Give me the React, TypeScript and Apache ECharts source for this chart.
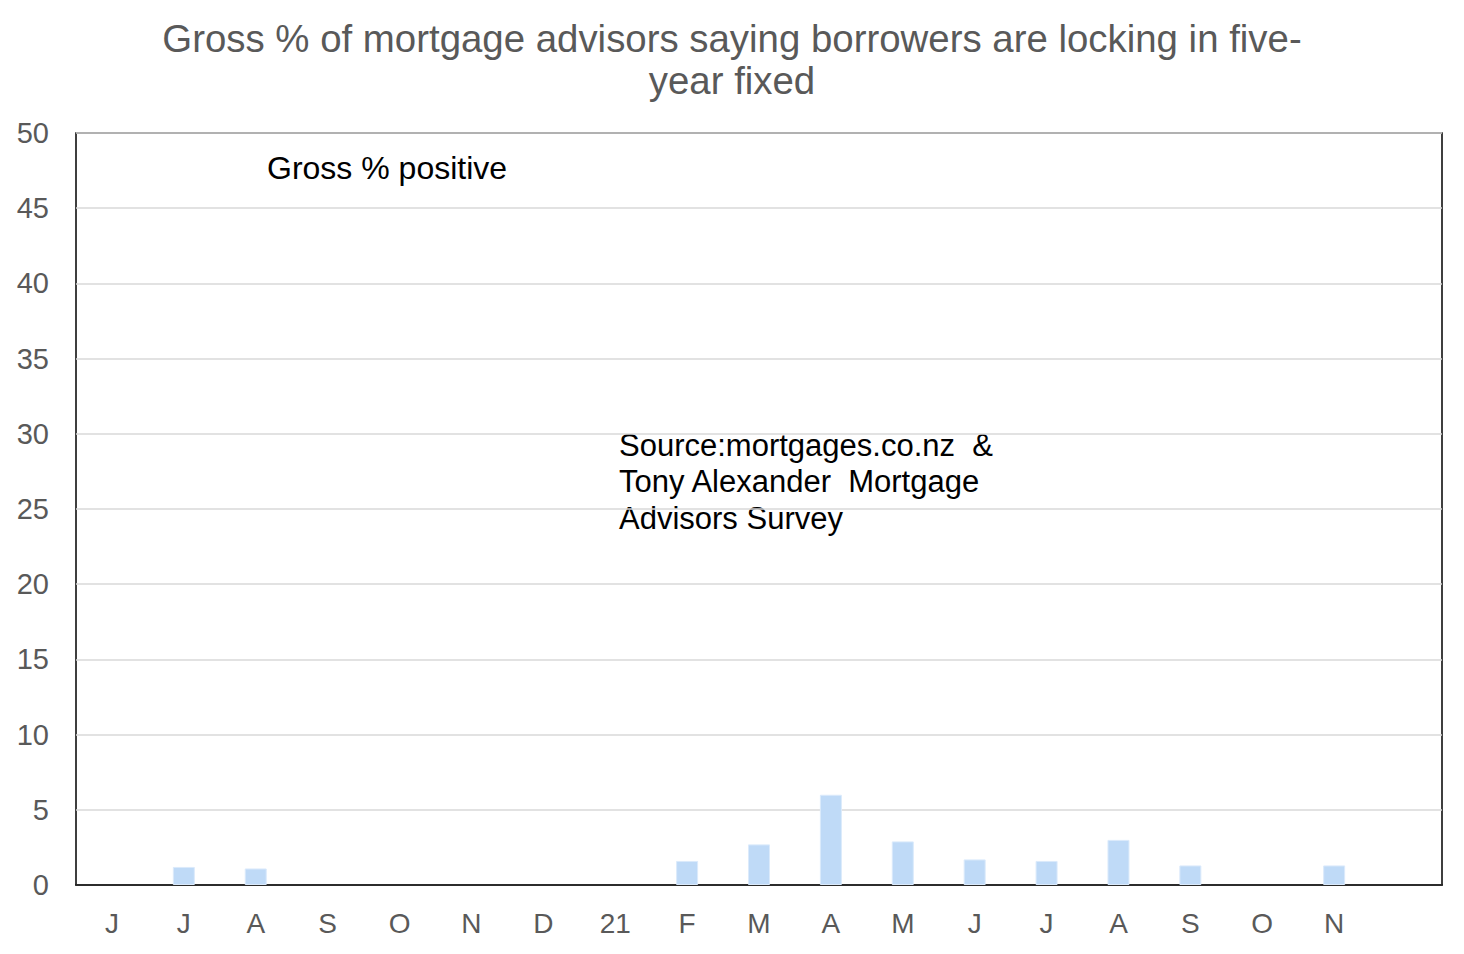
import React, { useEffect, useRef } from "react";
import * as echarts from "echarts";

const categories = ["J", "J", "A", "S", "O", "N", "D", "21", "F", "M", "A", "M", "J", "J", "A", "S", "O", "N", ""];
const grossPositive = [null, 1.2, 1.1, null, null, null, null, null, 1.6, 2.7, 6.0, 2.9, 1.7, 1.6, 3.0, 1.3, null, 1.3, null];
const yTicks = { min: 0, max: 50, interval: 5 };

const titleText = "Gross % of mortgage advisors saying borrowers are locking in five-\nyear fixed";
const seriesLabel = "Gross % positive";
const sourceText = "Source:mortgages.co.nz  &\nTony Alexander  Mortgage\nAdvisors Survey";

const FONT = "'Liberation Sans', Arial, sans-serif";

export default function App() {
  const ref = useRef<HTMLDivElement>(null);
  useEffect(() => {
    document.body.style.margin = "0";
    const chart = echarts.init(ref.current!, undefined, { renderer: "svg" });
    chart.setOption({
      animation: false,
      backgroundColor: "#ffffff",
      title: {
        text: titleText,
        left: 727,
        top: 12,
        textAlign: "center",
        textStyle: {
          fontFamily: FONT,
          fontSize: 38.4,
          fontWeight: "normal",
          color: "#595959",
          lineHeight: 42,
        },
      },
      grid: {
        left: 76,
        right: 22,
        top: 133,
        bottom: 69,
        show: true,
        borderColor: "#000000",
        borderWidth: 1.5,
        backgroundColor: "transparent",
      },
      xAxis: {
        type: "category",
        data: categories,
        boundaryGap: true,
        axisLine: { show: true, lineStyle: { color: "#000000", width: 1.5 } },
        axisTick: { show: false },
        axisLabel: {
          interval: 0,
          margin: 24,
          fontFamily: FONT,
          fontSize: 28,
          color: "#595959",
        },
        splitLine: { show: false },
      },
      yAxis: {
        type: "value",
        min: yTicks.min,
        max: yTicks.max,
        interval: yTicks.interval,
        axisLine: { show: false },
        axisTick: { show: false },
        axisLabel: {
          margin: 27,
          fontFamily: FONT,
          fontSize: 29,
          color: "#595959",
        },
        splitLine: { show: true, lineStyle: { color: "#d9d9d9", width: 1.5 } },
      },
      series: [
        {
          name: seriesLabel,
          type: "bar",
          data: grossPositive,
          barWidth: 22,
          itemStyle: { color: "#bfdaf7", borderColor: "#dbeafb", borderWidth: 1 },
        },
      ],
      graphic: [
        {
          type: "text",
          left: 267,
          top: 152,
          style: {
            text: seriesLabel,
            fontFamily: FONT,
            fontSize: 32,
            fill: "#000000",
          },
        },
        {
          type: "text",
          left: 619,
          top: 427,
          style: {
            text: sourceText,
            fontFamily: FONT,
            fontSize: 31,
            lineHeight: 36.5,
            fill: "#000000",
          },
        },
      ],
    });
    return () => chart.dispose();
  }, []);
  return <div ref={ref} style={{ width: 1464, height: 954 }} />;
}
